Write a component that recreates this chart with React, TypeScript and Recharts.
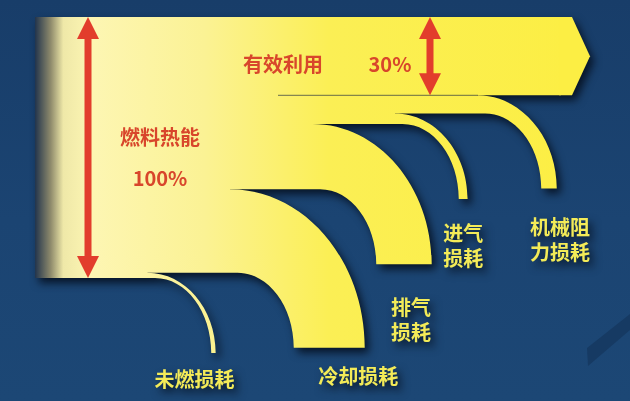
import { Sankey } from "recharts";

// energy flow of an engine, % of fuel heat, top to bottom
const flowNames = ["燃料热能", "有效利用", "机械阻力损耗", "进气损耗", "排气损耗", "冷却损耗", "未燃损耗"];
const flowShares = [30, 7, 4, 25, 32, 2];
const totalLabel = "100%";
const usefulLabel = "30%";
const branchLabelLines = [["机械阻", "力损耗"], ["进气", "损耗"], ["排气", "损耗"], ["冷却损耗"], ["未燃损耗"]];

const nodes = flowNames.map((name) => ({ name }));
const links = flowShares.map((value, i) => ({ source: 0, target: i + 1, value }));

const FONT = "'Noto Sans CJK SC', 'Noto Sans', sans-serif";
const RED = "#e23d2c";
const RED_TEXT = "#d8462b";
const LABEL = "#f3eb58";
const KAPPA = 0.5523;
const DROP = 75;
// nudge of each branch label [dx, dy], by link index
const labelShift = [
  [0, 0],
  [11, 10],
  [0, 6],
  [7, 15],
  [29, 0],
  [-19, -2],
];

function DoubleArrow({ x, y0, y1 }: { x: number; y0: number; y1: number }) {
  const head = 22;
  const half = 11;
  return (
    <g fill={RED}>
      <rect x={x - 3.5} y={y0 + head - 2} width={7} height={y1 - y0 - 2 * head + 4} />
      <polygon points={`${x},${y0} ${x + half},${y0 + head} ${x - half},${y0 + head}`} />
      <polygon points={`${x},${y1} ${x + half},${y1 - head} ${x - half},${y1 - head}`} />
    </g>
  );
}

function FlowLink(props: any) {
  const { sourceX, targetX, sourceY, linkWidth, index } = props;
  const y0 = sourceY - linkWidth / 2;
  const y1 = sourceY + linkWidth / 2;
  if (index === 0) {
    return <path d={`M${sourceX},${y0}H${targetX + 1}V${y1}H${sourceX}Z`} fill="url(#flowFill)" />;
  }
  const step = (targetX - sourceX) / 6;
  const xs = sourceX + step * (6 - index);
  const ye = y1 + DROP;
  const ry = ye - y0;
  const rx = ry * 0.85;
  const xo = xs + rx;
  const xi = xo - linkWidth * 0.85;
  const ri = DROP * 0.75;
  const xa = xi - ri;
  const d = [
    `M${sourceX},${y0 - 1}`,
    `H${xs}`,
    `V${y0}`,
    `C${xs + rx * KAPPA},${y0} ${xo},${ye - ry * KAPPA} ${xo},${ye}`,
    `H${xi}`,
    `C${xi},${ye - DROP * KAPPA} ${xa + ri * KAPPA},${y1} ${xa},${y1}`,
    `H${sourceX}Z`,
  ].join(" ");
  const lines = branchLabelLines[index - 1];
  const [dx, dy] = labelShift[index];
  const cx = (xi + xo) / 2 + dx;
  return (
    <g>
      <path d={d} fill="url(#flowFill)" />
      {lines.map((line, j) => (
        <text
          key={j}
          x={cx}
          y={ye + 36 + dy + j * 25}
          textAnchor="middle"
          fill={LABEL}
          fontFamily={FONT}
          fontWeight={700}
          fontSize={20}
        >
          {line}
        </text>
      ))}
    </g>
  );
}

function FlowNode(props: any) {
  const { x, y, width, height, index } = props;
  if (index === 0) {
    return (
      <g>
        <rect x={x} y={y} width={width + 1} height={height} fill="url(#flowFill)" />
        <DoubleArrow x={x + width + 23} y0={y} y1={y + height} />
        <text x={x + 125} y={y + height * 0.46 + 8} textAnchor="middle" fill={RED_TEXT} fontFamily={FONT} fontWeight={700} fontSize={20}>
          {flowNames[0]}
        </text>
        <text x={x + 125} y={y + height * 0.62 + 7} textAnchor="middle" fill={RED_TEXT} fontFamily={FONT} fontWeight={700} fontSize={20}>
          {totalLabel}
        </text>
      </g>
    );
  }
  if (index === 1) {
    const mid = y + height / 2;
    return (
      <g>
        <polygon
          points={`${x - 1},${y} ${x + 12},${y} ${x + width},${mid} ${x + 12},${y + height} ${x - 1},${y + height}`}
          fill="#fcee44"
        />
        <line x1={x - 282} x2={x - 82} y1={y + height} y2={y + height} stroke="#2a3440" strokeWidth={1} strokeOpacity={0.7} />
        <DoubleArrow x={x - 130} y0={y} y1={y + height} />
        <text x={x - 277} y={mid + 16} textAnchor="middle" fill={RED_TEXT} fontFamily={FONT} fontWeight={700} fontSize={20}>
          {flowNames[1]}
        </text>
        <text x={x - 170} y={mid + 16} textAnchor="middle" fill={RED_TEXT} fontFamily={FONT} fontWeight={700} fontSize={20}>
          {usefulLabel}
        </text>
      </g>
    );
  }
  return <g />;
}

export default function App() {
  return (
    <div
      style={{
        position: "absolute",
        left: 0,
        top: 0,
        width: 630,
        height: 401,
        overflow: "hidden",
        background: "linear-gradient(180deg, #183d69 0%, #1b4472 55%, #1c4775 100%)",
      }}
    >
      <svg width={630} height={401} style={{ position: "absolute", left: 0, top: 0 }}>
        <defs>
          <linearGradient id="flowFill" gradientUnits="userSpaceOnUse" x1={35} y1={0} x2={600} y2={0}>
            <stop offset="0" stopColor="#22344c" />
            <stop offset="0.028" stopColor="#8f8b6c" />
            <stop offset="0.05" stopColor="#efe8a8" />
            <stop offset="0.1" stopColor="#fdf6b3" />
            <stop offset="0.3" stopColor="#fbf294" />
            <stop offset="0.52" stopColor="#fbef55" />
            <stop offset="1" stopColor="#fcee42" />
          </linearGradient>
        </defs>
        <polygon points="587,348 630,314 630,330 588,366" fill="#163a63" />
      </svg>
      <div
        style={{
          position: "absolute",
          left: 0,
          top: 0,
          filter: "drop-shadow(4px 5px 4px rgba(4, 14, 30, 0.9))",
        }}
      >
        <Sankey
          width={630}
          height={401}
          data={{ nodes, links }}
          nodeWidth={30}
          nodePadding={0}
          iterations={0}
          sort={false}
          margin={{ top: 17, bottom: 123, left: 35, right: 40 }}
          link={(p: any) => <FlowLink {...p} />}
          node={(p: any) => <FlowNode {...p} />}
        />
      </div>
    </div>
  );
}
